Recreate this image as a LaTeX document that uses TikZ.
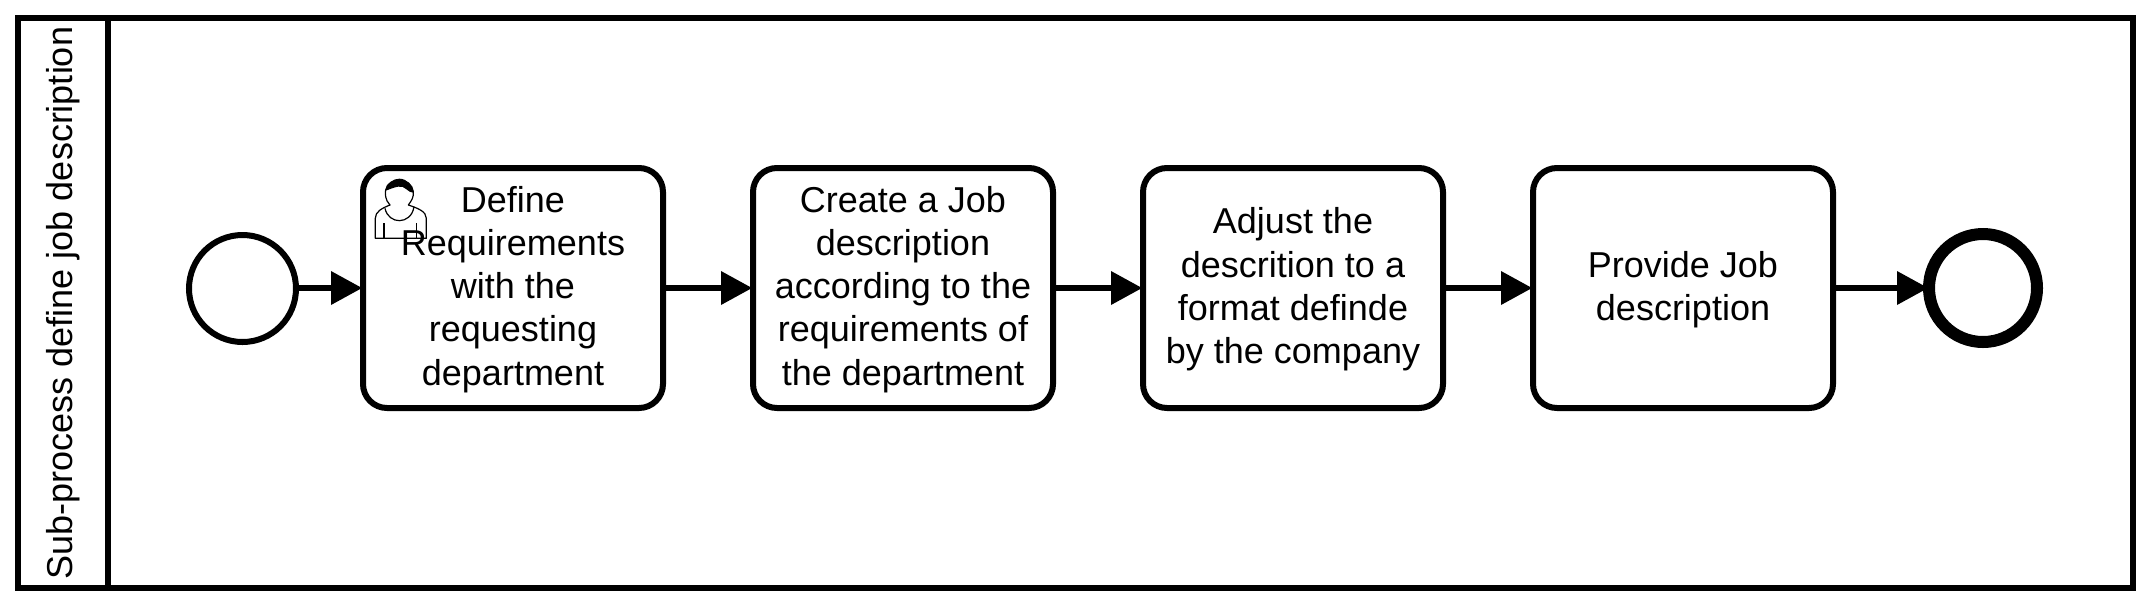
\documentclass[tikz,border=0pt]{standalone}
\usepackage{fontspec}
\setmainfont{Liberation Sans}
\usetikzlibrary{arrows.meta}
\newcommand\toppad{\rule{0pt}{29pt}}
\tikzset{
  x=1pt,y=-1pt,
  lane/.style={draw=black,line width=6pt,fill=white},
  taskbox/.style={draw=black,line width=6pt,fill=white,rounded corners=24pt,minimum width=300pt,minimum height=240pt,inner sep=0pt,align=center,font=\fontsize{36}{43.2}\selectfont},
  startev/.style={circle,draw=black,line width=6pt,fill=white,minimum size=107pt,inner sep=0pt},
  endev/.style={circle,draw=black,line width=12pt,fill=white,minimum size=108pt,inner sep=0pt},
  flow/.style={draw=black,line width=5.5pt,-{Triangle[length=31pt,width=34pt,line width=0pt]},shorten >=-2pt},
  endflow/.style={flow,shorten >=-5pt},
  icon/.style={draw=black,line width=1.2pt,fill=white,line join=round},
  lanelabel/.style={rotate=90,font=\fontsize{36}{40}\selectfont,inner sep=0pt}
}
\begin{document}
\begin{tikzpicture}
\useasboundingbox (0,0) rectangle (2151,606);
\fill[white] (0,0) rectangle (2151,606);
\draw[lane] (18,18) rectangle (2133,588);
\draw[lane] (108,18) -- (108,588);
\node[lanelabel] (title) at (63,303) {Sub-process define job description};
\node[startev] (s) at (242.5,288.5) {};
\node[taskbox] (t1) at (513,288) {\toppad Define\\Requirements\\with the\\requesting\\department};
\node[taskbox] (t2) at (903,288) {\toppad Create a Job\\description\\according to the\\requirements of\\the department};
\node[taskbox] (t3) at (1293,288) {\toppad Adjust the\\descrition to a\\format definde\\by the company};
\node[taskbox] (t4) at (1683,288) {\toppad Provide Job\\description};
\node[endev] (e) at (1983,288) {};
\draw[flow] (s.east |- t1.west) -- (t1.west);
\draw[flow] (t1) -- (t2);
\draw[flow] (t2) -- (t3);
\draw[flow] (t3) -- (t4);
\draw[endflow] (t4) -- (e);
\begin{scope}[shift={(340,150)},x=0.3333pt,y=-0.3333pt]
  \draw[icon,fill=none] (106,265) -- (106,205) .. controls (106,185) and (125,175) .. (150,165)
     .. controls (135,150) and (135,130) .. (137,120) .. controls (140,100) and (160,90) .. (178,90)
     .. controls (200,90) and (218,105) .. (220,125) .. controls (222,140) and (215,152) .. (205,165)
     .. controls (235,175) and (259,185) .. (259,205) -- (259,265) -- cycle;
  \fill[black] (137,122) .. controls (140,100) and (160,86) .. (178,86)
     .. controls (200,86) and (218,105) .. (220,128) .. controls (205,130) and (195,105) .. (175,110) .. controls (160,112) and (150,118) .. (137,122) -- cycle;
  \draw[icon,fill=none] (135,175) .. controls (140,200) and (160,212) .. (178,212) .. controls (198,212) and (218,198) .. (222,170);
  \draw[icon] (132,220) -- (132,265);
  \draw[icon] (230,220) -- (230,265);
\end{scope}
\end{tikzpicture}
\end{document}
